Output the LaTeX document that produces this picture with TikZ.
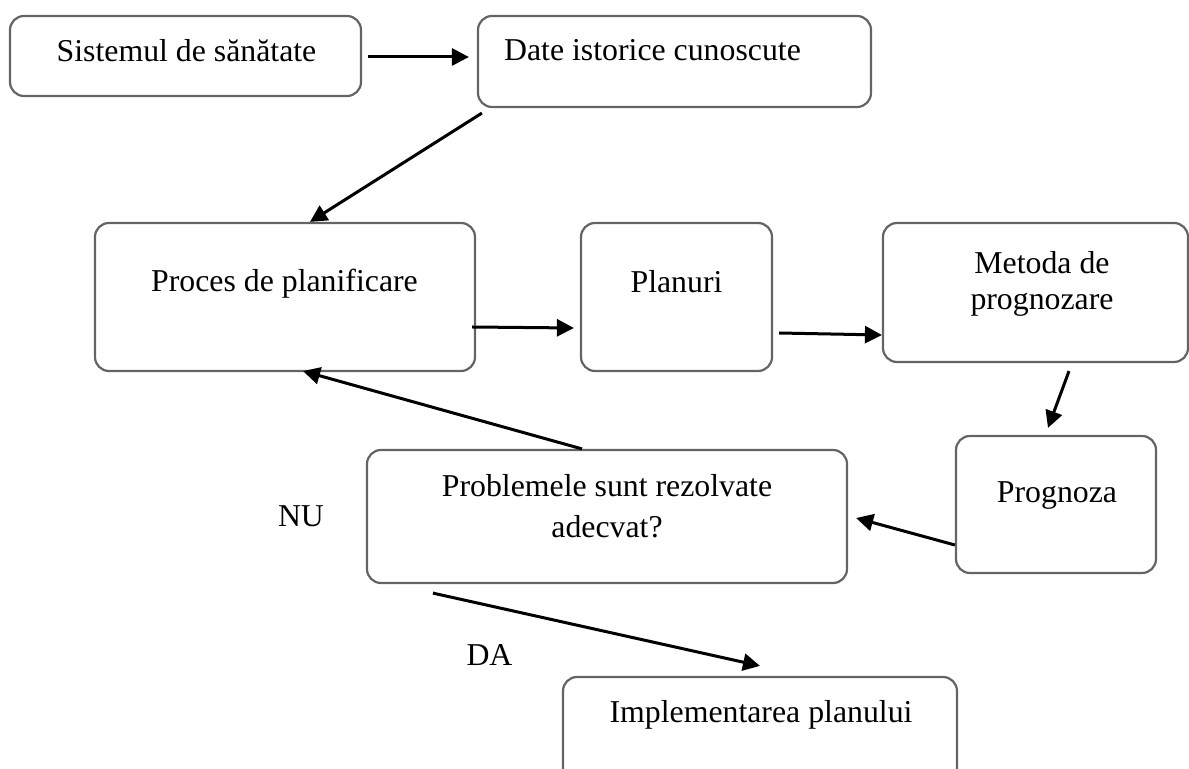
\documentclass[tikz,border=0pt]{standalone}
\usepackage{fontspec}
\setmainfont{Liberation Serif}
\usepackage{tikz}
\usetikzlibrary{positioning,calc,arrows.meta}

\definecolor{boxgray}{RGB}{100,100,100}

\tikzset{
	box/.style={draw=boxgray, line width=1.1pt, rounded corners=7pt, inner sep=0pt},
	txt/.style={inner sep=0pt, anchor=base, font=\fontsize{15.9}{18}\selectfont},
	arr/.style={-{Triangle[length=8.5pt,width=8.5pt]}, line width=1.5pt, black}
}

\begin{document}
\begin{tikzpicture}[x=0.5pt, y=-0.5pt]
		\useasboundingbox (0,0) rectangle (1189,769);
		% boxes
		\node[box, minimum width=175.5pt, minimum height=40pt] (sis) at (185.5,56) {};
		\node[box, minimum width=196.5pt, minimum height=45.5pt] (dat) at (674.5,61.5) {};
		\node[box, minimum width=190pt, minimum height=74pt] (pro) at (285,297) {};
		\node[box, minimum width=95.5pt, minimum height=74pt] (pla) at (676.5,297) {};
		\node[box, minimum width=152.5pt, minimum height=69.5pt] (met) at (1035.5,292.5) {};
		\node[box, minimum width=100pt, minimum height=68.5pt] (prg) at (1056,504.5) {};
		\node[box, minimum width=240pt, minimum height=66.5pt] (prb) at (607,516.5) {};
		\node[box, minimum width=197pt, minimum height=61.5pt] (imp) at (760,738.5) {};
		% texts (base = last line)
		\node[txt] (sis-t) at (186.5,62) {Sistemul de sănătate};
		\node[txt] (dat-t) at (652.5,61) {Date istorice cunoscute};
		\node[txt] (pro-t) at (284.5,292) {Proces de planificare};
		\node[txt] (pla-t) at (676.5,293) {Planuri};
		\node[txt, align=center] (met-t) at (1042,310) {Metoda de\\prognozare};
		\node[txt] (prg-t) at (1057,503) {Prognoza};
		\node[txt, align=center, font=\fontsize{15.9}{20.5}\selectfont] (prb-t) at (607,538) {Problemele sunt rezolvate\\adecvat?};
		\node[txt] (imp-t) at (761,722) {Implementarea planului};
		\node[txt] (nu) at (301,527) {NU};
		\node[txt] (da) at (489.5,666) {DA};
		% arrows
		\draw[arr] ($(sis.east)+(6,1)$) -- ($(dat.west)+(-8,-4.5)$);
		\draw[arr] ($(dat.south west)+(5,5)$) -- ($(pro.north)+(25,0)$);
		\draw[arr] ($(pro.east)+(-4,30)$) -- ($(pla.west)+(-6,31)$);
		\draw[arr] ($(pla.east)+(6,36)$) -- ($(met.west)+(0,42.5)$);
		\draw[arr] ($(met.south)+(33.5,8)$) -- ($(prg.north)+(-8,-7)$);
		\draw[arr] ($(prg.west)+(0,40.5)$) -- ($(prb.east)+(8,1.5)$);
		\draw[arr] ($(prb.north)+(-25,0)$) -- ($(pro.south)+(18,-1)$);
		\draw[arr] ($(prb.south west)+(67,9)$) -- ($(imp.north)+(0,-10)$);
	\end{tikzpicture}
\end{document}
